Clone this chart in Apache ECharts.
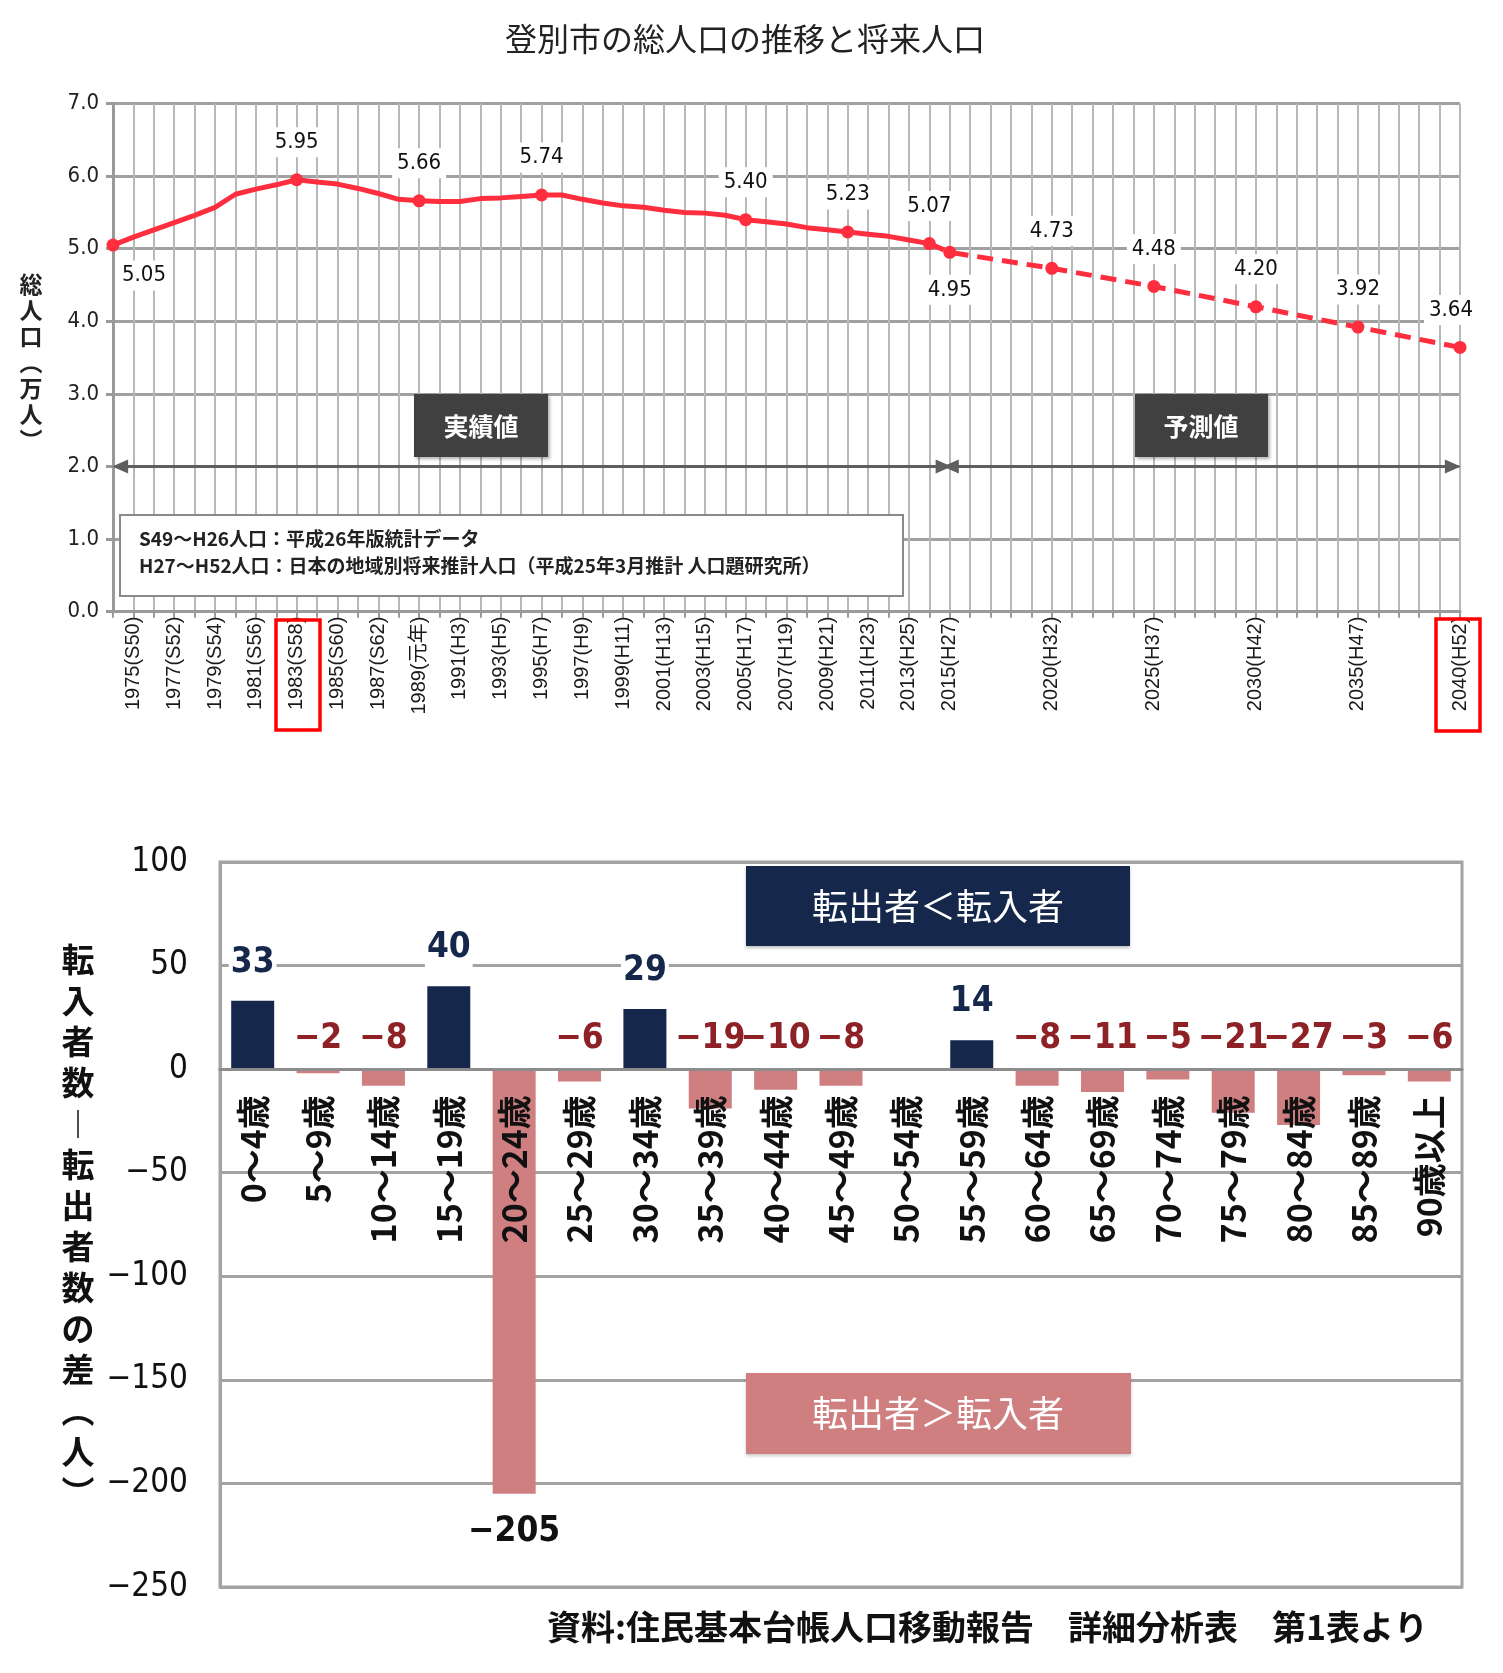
<!DOCTYPE html>
<html><head><meta charset="utf-8">
<script src="https://cdn.jsdelivr.net/npm/echarts@6/dist/echarts.min.js"></script>
<style>html,body{margin:0;padding:0;background:#fff}#c{width:1503px;height:1673px}</style>
</head><body><div id="c"></div>
<script>
// ---- Top chart data: total population (10,000 persons) ----
const actualYears = [1974,1975,1976,1977,1978,1979,1980,1981,1982,1983,1984,1985,1986,1987,1988,1989,1990,1991,1992,1993,1994,1995,1996,1997,1998,1999,2000,2001,2002,2003,2004,2005,2006,2007,2008,2009,2010,2011,2012,2013,2014];
const actualValues = [5.05,5.16,5.26,5.36,5.46,5.57,5.75,5.82,5.88,5.95,5.92,5.89,5.83,5.76,5.68,5.66,5.65,5.65,5.69,5.70,5.72,5.74,5.74,5.68,5.63,5.59,5.57,5.53,5.50,5.49,5.46,5.40,5.37,5.34,5.29,5.26,5.23,5.20,5.17,5.12,5.07];
const actualLabeledYears = [1974,1983,1989,1995,2005,2010,2014];
const projYears = [2014,2015,2020,2025,2030,2035,2040];
const projValues = [5.07,4.95,4.73,4.48,4.20,3.92,3.64];
const projLabeledYears = [2015,2020,2025,2030,2035,2040];
const xTickYears = [1975,1977,1979,1981,1983,1985,1987,1989,1991,1993,1995,1997,1999,2001,2003,2005,2007,2009,2011,2013,2015,2020,2025,2030,2035,2040];
const xTickLabels = ['1975(S50)','1977(S52)','1979(S54)','1981(S56)','1983(S58)','1985(S60)','1987(S62)','1989(元年)','1991(H3)','1993(H5)','1995(H7)','1997(H9)','1999(H11)','2001(H13)','2003(H15)','2005(H17)','2007(H19)','2009(H21)','2011(H23)','2013(H25)','2015(H27)','2020(H32)','2025(H37)','2030(H42)','2035(H47)','2040(H52)'];
const topYTicks = [0,1,2,3,4,5,6,7];

// ---- Bottom chart data: net migration by age ----
const ageCategories = ['0～4歳','5～9歳','10～14歳','15～19歳','20～24歳','25～29歳','30～34歳','35～39歳','40～44歳','45～49歳','50～54歳','55～59歳','60～64歳','65～69歳','70～74歳','75～79歳','80～84歳','85～89歳','90歳以上'];
const netMigration = [33,-2,-8,40,-205,-6,29,-19,-10,-8,0,14,-8,-11,-5,-21,-27,-3,-6];
const bottomYTicks = [-250,-200,-150,-100,-50,0,50,100];
const bottomMin = -250, bottomMax = 100;

const NUM = "'Liberation Sans Narrow','DejaVu Sans Condensed','Liberation Sans',sans-serif";
const JP = "'Noto Sans CJK JP','Noto Sans CJK SC',sans-serif";
const RED = '#ff2e3e';
const NAVY = '#15284b';
const PINK = '#cf7f80';

const tickMap = {};
xTickYears.forEach((y, i) => tickMap[y] = xTickLabels[i]);

function popLabel(year) {
  const base = {show: true, position: 'top', distance: 16, backgroundColor: '#fff', padding: [4, 5],
    fontSize: 22, fontFamily: NUM, color: '#111', lineHeight: 22,
    formatter: p => p.value[1].toFixed(2)};
  if (year === 1974) { base.position = 'bottom'; base.distance = 9; base.offset = [31, 0]; }
  if (year === 2015) { base.position = 'bottom'; base.distance = 16; }
  if (year === 2040) { base.offset = [-9, 0]; }
  return base;
}

const actualData = actualYears.map((y, i) => {
  const lab = actualLabeledYears.includes(y);
  return {value: [y, actualValues[i]], symbolSize: lab ? 13 : 0, label: lab ? popLabel(y) : {show: false}};
});
const projData = projYears.map((y, i) => {
  const lab = projLabeledYears.includes(y);
  return {value: [y, projValues[i]], symbolSize: lab ? 13 : 0, label: lab ? popLabel(y) : {show: false}};
});

const barData = netMigration.map(v => {
  const item = {value: v, itemStyle: {color: v >= 0 ? NAVY : PINK}};
  if (v === 0) item.label = {show: false};
  else if (v > 0) item.label = {show: true, position: 'top', distance: 16, color: NAVY, backgroundColor: '#fff'};
  else if (v < -100) item.label = {show: true, position: 'bottom', distance: 16, color: '#111'};
  else item.label = {show: true, position: 'top', distance: 8, color: '#8e2126'};
  return item;
});

const fmtMinus = v => v < 0 ? '−' + Math.abs(v) : String(v);

const G2 = {left: 220, width: 1242, top: 862, height: 725};
// category axis sits on the zero line of the value axis
const zeroOffset = -G2.height * (0 - bottomMin) / (bottomMax - bottomMin);

const chart = echarts.init(document.getElementById('c'), null, {renderer: 'canvas'});
chart.setOption({
  animation: false,
  backgroundColor: '#fff',
  grid: [
    {left: 113, width: 1347, top: 103.5, height: 508.2, outerBoundsMode: 'none', containLabel: false},
    Object.assign({outerBoundsMode: 'none', containLabel: false,
      show: true, borderColor: '#a3a3a3', borderWidth: 3, backgroundColor: 'transparent'}, G2)
  ],
  xAxis: [
    {type: 'value', gridIndex: 0, min: 1974, max: 2040, interval: 1,
      axisLine: {show: true, lineStyle: {color: '#9a9a9a', width: 3}},
      axisTick: {show: true, length: 6, lineStyle: {color: '#9a9a9a', width: 2}},
      axisLabel: {rotate: 90, fontSize: 20, fontFamily: "'Liberation Sans'," + JP, color: '#1a1a1a', margin: 5,
        showMinLabel: true, showMaxLabel: true, formatter: v => tickMap[v] || ''},
      splitLine: {show: true, lineStyle: {color: '#b8b8b8', width: 2}}},
    {type: 'category', gridIndex: 1, data: ageCategories, z: 10, offset: zeroOffset,
      axisLine: {show: true, onZero: false, lineStyle: {color: '#8c8c8c', width: 3}},
      axisTick: {show: false},
      axisLabel: {rotate: 90, fontSize: 34, fontWeight: 'bold', fontFamily: JP, color: '#111', margin: 26, interval: 0},
      splitLine: {show: false}}
  ],
  yAxis: [
    {type: 'value', gridIndex: 0, min: 0, max: 7, interval: 1,
      axisLine: {show: true, lineStyle: {color: '#9a9a9a', width: 3}},
      axisTick: {show: true, length: 7, lineStyle: {color: '#9a9a9a', width: 3}},
      axisLabel: {fontSize: 22, fontFamily: NUM, color: '#222', margin: 14, formatter: v => v.toFixed(1)},
      splitLine: {show: true, lineStyle: {color: '#a0a0a0', width: 3}}},
    {type: 'value', gridIndex: 1, min: bottomMin, max: bottomMax, interval: 50,
      axisLine: {show: true, onZero: false, lineStyle: {color: '#a3a3a3', width: 3}},
      axisTick: {show: false},
      axisLabel: {fontSize: 33, fontFamily: NUM, color: '#111', margin: 32, formatter: fmtMinus},
      splitLine: {show: true, lineStyle: {color: '#a3a3a3', width: 3}}}
  ],
  series: [
    {name: '実績値', type: 'line', xAxisIndex: 0, yAxisIndex: 0, data: actualData,
      symbol: 'circle', showAllSymbol: true, z: 5,
      lineStyle: {color: RED, width: 5}, itemStyle: {color: RED},
      markLine: {silent: true, symbol: ['triangle', 'triangle'], symbolSize: [14, 16], animation: false,
        label: {show: false}, lineStyle: {color: '#5f5f5f', width: 3, type: 'solid'},
        data: [
          [{coord: [1974.35, 2]}, {coord: [2014.7, 2]}],
          [{coord: [2015.05, 2]}, {coord: [2039.65, 2]}]
        ]}},
    {name: '予測値', type: 'line', xAxisIndex: 0, yAxisIndex: 0, data: projData,
      symbol: 'circle', showAllSymbol: true, z: 5,
      lineStyle: {color: RED, width: 5, type: [16, 9]}, itemStyle: {color: RED}},
    {name: '転入者数－転出者数', type: 'bar', xAxisIndex: 1, yAxisIndex: 1, data: barData,
      barWidth: 43, z: 3,
      label: {fontSize: 35, fontWeight: 'bold', fontFamily: NUM, padding: [2, 2], lineHeight: 40,
        formatter: p => fmtMinus(p.value)}}
  ],
  graphic: [
    {type: 'text', x: 745, y: 39, style: {text: '登別市の総人口の推移と将来人口', font: '32px ' + JP, fill: '#222', textAlign: 'center', textVerticalAlign: 'middle'}},
    {type: 'text', x: 31, y: 271, style: {text: '総\n人\n口\n︵\n万\n人\n︶', font: 'bold 23px ' + JP, lineHeight: 26, fill: '#222', textAlign: 'center'}},
    {type: 'rect', shape: {x: 120, y: 515, width: 783, height: 81}, style: {fill: '#fff', stroke: '#8a8a8a', lineWidth: 2}, z: 50},
    {type: 'text', x: 139, y: 539, z: 51, style: {text: 'S49～H26人口：平成26年版統計データ', font: 'bold 19px ' + JP, fill: '#222', textVerticalAlign: 'middle'}},
    {type: 'text', x: 139, y: 566, z: 51, style: {text: 'H27～H52人口：日本の地域別将来推計人口（平成25年3月推計 人口題研究所）', font: 'bold 19px ' + JP, fill: '#222', textVerticalAlign: 'middle'}},
    {type: 'rect', shape: {x: 414, y: 394, width: 134, height: 63}, style: {fill: '#404040', shadowBlur: 3, shadowColor: 'rgba(0,0,0,0.3)', shadowOffsetX: 2, shadowOffsetY: 2}, z: 50},
    {type: 'text', x: 481, y: 426, z: 51, style: {text: '実績値', font: 'bold 25px ' + JP, fill: '#fff', textAlign: 'center', textVerticalAlign: 'middle'}},
    {type: 'rect', shape: {x: 1135, y: 394, width: 133, height: 63}, style: {fill: '#404040', shadowBlur: 3, shadowColor: 'rgba(0,0,0,0.3)', shadowOffsetX: 2, shadowOffsetY: 2}, z: 50},
    {type: 'text', x: 1201, y: 426, z: 51, style: {text: '予測値', font: 'bold 25px ' + JP, fill: '#fff', textAlign: 'center', textVerticalAlign: 'middle'}},
    {type: 'rect', shape: {x: 276, y: 620, width: 44, height: 110}, style: {fill: 'none', stroke: '#ff0000', lineWidth: 3.5}, z: 52},
    {type: 'rect', shape: {x: 1436, y: 619, width: 44, height: 112}, style: {fill: 'none', stroke: '#ff0000', lineWidth: 3.5}, z: 52},
    {type: 'text', x: 78, y: 939, style: {text: '転\n入\n者\n数\n︱\n転\n出\n者\n数\nの\n差\n︵\n人\n︶', font: 'bold 33px ' + JP, lineHeight: 41, fill: '#111', textAlign: 'center'}},
    {type: 'rect', shape: {x: 746, y: 866, width: 384, height: 80}, style: {fill: NAVY, shadowBlur: 3, shadowColor: 'rgba(0,0,0,0.25)', shadowOffsetY: 2}, z: 50},
    {type: 'text', x: 938, y: 906, z: 51, style: {text: '転出者＜転入者', font: '36px ' + JP, fill: '#fff', textAlign: 'center', textVerticalAlign: 'middle'}},
    {type: 'rect', shape: {x: 746, y: 1373, width: 385, height: 81}, style: {fill: PINK, shadowBlur: 3, shadowColor: 'rgba(0,0,0,0.2)', shadowOffsetY: 2}, z: 50},
    {type: 'text', x: 938, y: 1413, z: 51, style: {text: '転出者＞転入者', font: '36px ' + JP, fill: '#fff', textAlign: 'center', textVerticalAlign: 'middle'}},
    {type: 'text', x: 1428, y: 1627, style: {text: '資料:住民基本台帳人口移動報告　詳細分析表　第1表より', font: 'bold 34px ' + JP, fill: '#111', textAlign: 'right', textVerticalAlign: 'middle'}}
  ]
});
</script></body></html>
